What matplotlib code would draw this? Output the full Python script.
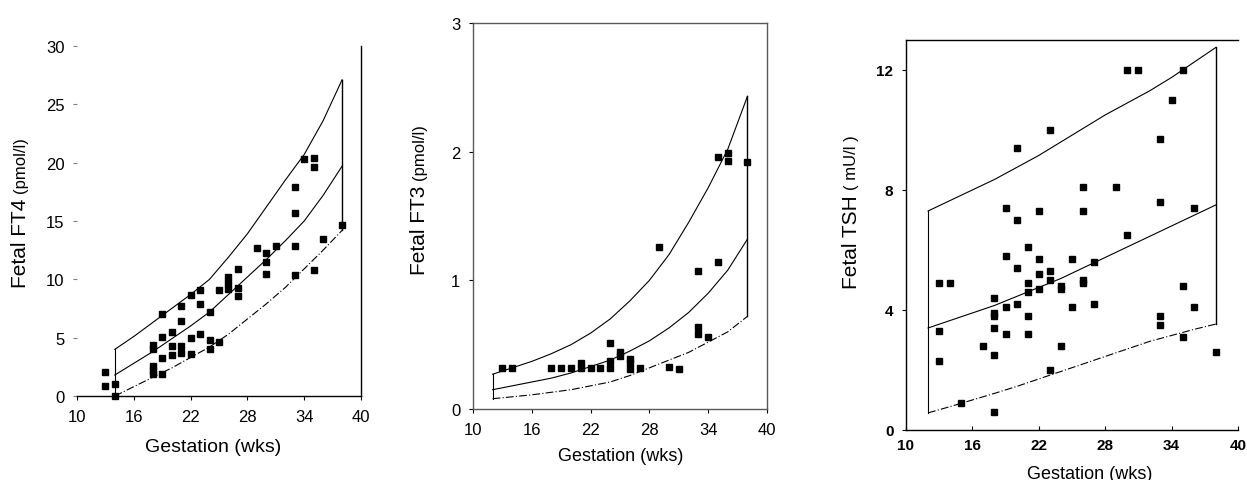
import matplotlib
matplotlib.use("Agg")
import matplotlib.pyplot as plt

plt.rcParams['font.family'] = ['Liberation Sans', 'DejaVu Sans']

#gestation ticks shared by all three panels
wk_ticks = [10, 16, 22, 28, 34, 40]

#FT4 panel - points and reference curves
ft4_wk = [13, 13, 14, 14, 18, 18, 18, 18, 18, 19, 19, 19, 19, 20, 20, 20,
          21, 21, 21, 21, 22, 22, 22, 23, 23, 23, 24, 24, 24, 25, 25,
          26, 26, 26, 27, 27, 27, 29, 30, 30, 30, 31, 33, 33, 35, 36,
          34, 35, 35, 33, 33, 38]
ft4_val = [2.1, 0.9, 1.05, 0.0, 4.4, 4.0, 2.6, 2.2, 1.9, 7.0, 5.1, 3.25, 1.9, 5.5, 4.3, 3.5,
           7.7, 6.4, 4.3, 3.7, 8.7, 5.0, 3.6, 9.1, 7.9, 5.3, 7.2, 4.8, 4.0, 9.1, 4.6,
           10.2, 9.7, 9.2, 10.9, 9.3, 8.6, 12.7, 12.3, 11.5, 10.5, 12.9, 12.9, 10.4, 10.8, 13.5,
           20.3, 20.4, 19.6, 17.9, 15.7, 14.7]
ft4_cx = [14, 16, 18, 20, 22, 24, 26, 28, 30, 32, 34, 36, 38]
ft4_hi = [4.0, 5.1, 6.3, 7.5, 8.7, 10.0, 11.9, 13.9, 16.2, 18.5, 20.7, 23.6, 27.1]
ft4_mid = [1.8, 2.8, 3.8, 4.9, 6.0, 7.2, 8.7, 10.2, 11.7, 13.3, 15.0, 17.2, 19.7]
ft4_lo = [0.0, 0.8, 1.6, 2.4, 3.3, 4.2, 5.3, 6.6, 7.9, 9.3, 10.9, 12.5, 14.2]

#FT3 panel
ft3_wk = [13, 14, 18, 19, 20, 21, 21, 22, 23, 24, 24, 24, 25, 25, 26, 26, 26,
          27, 30, 31, 29, 33, 35, 33, 33, 34, 35, 36, 36, 38]
ft3_val = [0.32, 0.32, 0.32, 0.32, 0.32, 0.36, 0.32, 0.32, 0.32, 0.51, 0.37, 0.32, 0.44, 0.41,
           0.39, 0.36, 0.31, 0.32, 0.33, 0.31, 1.26, 1.07, 1.14, 0.64, 0.58, 0.56,
           1.96, 1.99, 1.93, 1.92]
ft3_cx = [12, 14, 16, 18, 20, 22, 24, 26, 28, 30, 32, 34, 36, 38]
ft3_hi = [0.27, 0.32, 0.37, 0.43, 0.50, 0.59, 0.70, 0.84, 1.00, 1.20, 1.45, 1.72, 2.02, 2.43]
ft3_mid = [0.15, 0.18, 0.21, 0.24, 0.28, 0.33, 0.38, 0.45, 0.53, 0.63, 0.75, 0.90, 1.08, 1.32]
ft3_lo = [0.08, 0.095, 0.11, 0.13, 0.15, 0.18, 0.21, 0.26, 0.32, 0.38, 0.44, 0.52, 0.60, 0.72]

#TSH panel
tsh_wk = [30, 31, 35, 34, 23, 20, 33, 26, 29, 19, 22, 26, 20, 33, 36, 30,
          19, 21, 22, 25, 27, 20, 22, 23, 23, 21, 21, 22, 24, 24, 26, 26,
          13, 14, 18, 18, 18, 19, 20, 21, 25, 27, 18, 13, 19, 21, 17, 24,
          18, 13, 23, 15, 18, 33, 33, 35, 35, 36, 38]
tsh_val = [12.0, 12.0, 12.0, 11.0, 10.0, 9.4, 9.7, 8.1, 8.1, 7.4, 7.3, 7.3, 7.0, 7.6, 7.4, 6.5,
           5.8, 6.1, 5.7, 5.7, 5.6, 5.4, 5.2, 5.3, 5.0, 4.9, 4.6, 4.7, 4.8, 4.7, 5.0, 4.9,
           4.9, 4.9, 4.4, 3.9, 3.8, 4.1, 4.2, 3.8, 4.1, 4.2, 3.4, 3.3, 3.2, 3.2, 2.8, 2.8,
           2.5, 2.3, 2.0, 0.9, 0.6, 3.8, 3.5, 4.8, 3.1, 4.1, 2.6]
tsh_cx = [12, 14, 16, 18, 20, 22, 24, 26, 28, 30, 32, 34, 36, 38]
tsh_hi = [7.3, 7.65, 8.0, 8.35, 8.75, 9.15, 9.6, 10.05, 10.5, 10.9, 11.3, 11.75, 12.25, 12.75]
tsh_mid = [3.4, 3.65, 3.9, 4.15, 4.45, 4.75, 5.05, 5.4, 5.75, 6.1, 6.45, 6.8, 7.15, 7.5]
tsh_lo = [0.57, 0.78, 1.0, 1.22, 1.45, 1.7, 1.95, 2.2, 2.45, 2.7, 2.95, 3.15, 3.35, 3.53]

fig = plt.figure(figsize=(12.47, 4.81), dpi=100)

def draw_panel(ax, wk, val, cx, hi, mid, lo, ylim, yticks, tsize):
    ax.plot(cx, hi, color='black', lw=0.8)
    ax.plot(cx, mid, color='black', lw=0.8)
    ax.plot(cx, lo, color='black', lw=0.8, ls=(0, (7, 2, 1, 2)))
    #closing verticals at both ends of the band
    ax.plot([cx[0], cx[0]], [lo[0], hi[0]], color='black', lw=0.8)
    ax.plot([cx[-1], cx[-1]], [lo[-1], hi[-1]], color='black', lw=1.0)
    ax.plot(wk, val, 's', color='black', ms=4.5, clip_on=False)
    ax.set_xlim(10, 40)
    ax.set_ylim(*ylim)
    ax.set_xticks(wk_ticks)
    ax.set_yticks(yticks)
    ax.tick_params(axis='both', length=3, width=0.8, labelsize=tsize, pad=6)
    for s in ax.spines.values():
        s.set_linewidth(1.0)

#panel 1
ax1 = fig.add_axes([0.0617, 0.1746, 0.2278, 0.7277])
draw_panel(ax1, ft4_wk, ft4_val, ft4_cx, ft4_hi, ft4_mid, ft4_lo, (0, 30), [0, 5, 10, 15, 20, 25, 30], 12)
ax1.spines['left'].set_visible(False)
ax1.spines['top'].set_visible(False)
ax1.tick_params(axis='y', color='0.5')

#panel 2
ax2 = fig.add_axes([0.3793, 0.1476, 0.2358, 0.8025])
draw_panel(ax2, ft3_wk, ft3_val, ft3_cx, ft3_hi, ft3_mid, ft3_lo, (0, 3), [0, 1, 2, 3], 12)
for s in ax2.spines.values():
    s.set_color('0.35')

#panel 3
ax3 = fig.add_axes([0.7265, 0.1040, 0.2662, 0.8108])
draw_panel(ax3, tsh_wk, tsh_val, tsh_cx, tsh_hi, tsh_mid, tsh_lo, (0, 13), [0, 4, 8, 12], 11)
ax3.spines['right'].set_visible(False)
ax3.tick_params(axis='x', direction='in')
for lab in ax3.get_xticklabels() + ax3.get_yticklabels():
    lab.set_fontweight('bold')

#y labels with the unit in a smaller size
ylabs = [(0.0168, 0.599, "Fetal FT4 ", "(pmol/l)"),
         (0.3368, 0.626, "Fetal FT3 ", "(pmol/l)"),
         (0.683, 0.605, "Fetal TSH ", "( mU/l )")]
for x, y, main, unit in ylabs:
    fig.text(x, y, main, rotation=90, ha='center', va='top', fontsize=15)
    fig.text(x, y, unit, rotation=90, ha='center', va='bottom', fontsize=12)

fig.text(0.171, 0.069, "Gestation (wks)", ha='center', va='center', fontsize=14)
fig.text(0.498, 0.050, "Gestation (wks)", ha='center', va='center', fontsize=13)
fig.text(0.874, 0.014, "Gestation (wks)", ha='center', va='center', fontsize=13)

fig.savefig("out.png", dpi=100)
